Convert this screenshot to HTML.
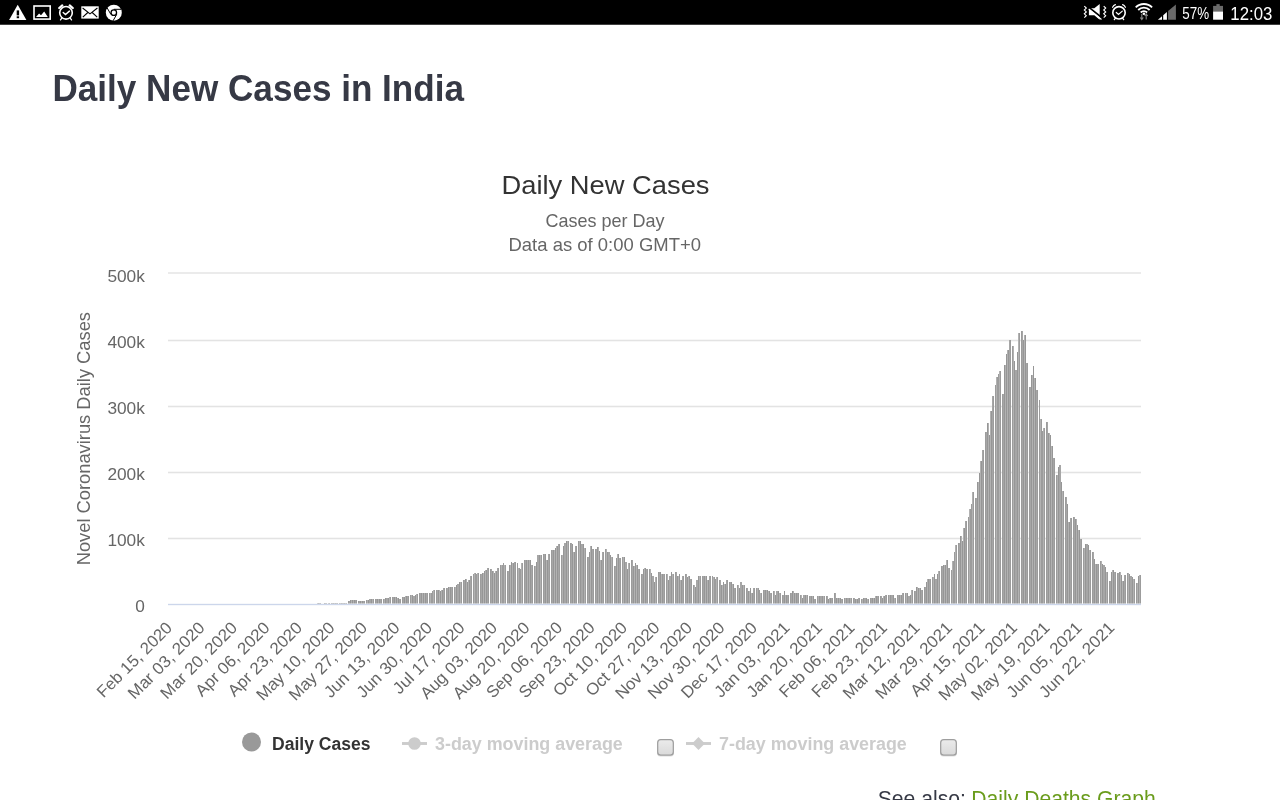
<!DOCTYPE html>
<html lang="en">
<head>
<meta charset="utf-8">
<title>Daily New Cases in India</title>
<style>
html,body{margin:0;padding:0;background:#fff;overflow:hidden}
body{width:1280px;height:800px;font-family:"Liberation Sans",sans-serif}
svg{display:block}
text{font-family:"Liberation Sans",sans-serif}
.h1{font-size:36px;font-weight:bold;fill:#363945}
.ct{font-size:26.5px;fill:#333}
.st{font-size:18.5px;fill:#666}
.yl{font-size:16.6px;fill:#666}
.xl{font-size:16.6px;fill:#666}
.ya{font-size:17.5px;fill:#666}
.lg{font-size:18px;font-weight:bold}
.sb{fill:#fff}
</style>
</head>
<body>
<svg width="1280" height="800" viewBox="0 0 1280 800">
<defs><linearGradient id="cbg" x1="0" y1="0" x2="0" y2="1"><stop offset="0" stop-color="#ebebeb"/><stop offset="1" stop-color="#dadada"/></linearGradient></defs>
<rect x="0" y="0" width="1280" height="800" fill="#fff"/>
<!-- status bar -->
<g id="statusbar">
<rect x="0" y="0" width="1280" height="24.750" fill="#000"/>
<!-- warning -->
<path d="M17.7 4.8L26.4 19.9H9.1Z" fill="#fff"/>
<rect x="16.7" y="10.4" width="2.4" height="5" fill="#000"/>
<rect x="16.7" y="16.3" width="2.4" height="1.9" fill="#000"/>
<!-- image -->
<rect x="34" y="6" width="16.200" height="13.100" fill="none" stroke="#fff" stroke-width="1.600"/>
<path d="M36 16.9L39.1 13.6L41 15.2L44.2 11.6L47.8 16.9Z" fill="#fff"/>
<!-- alarm left -->
<g fill="none" stroke="#fff" stroke-linecap="round">
<circle cx="66" cy="12.800" r="6.300" stroke-width="1.600"/>
<path d="M63.200 12.500L65.500 14.500L69.400 11.100" stroke-width="1.400"/>
<path d="M59.200 8L62.300 5.400M72.800 8L69.700 5.400" stroke-width="2.200"/>
<path d="M61.800 18.200L60.500 19.900M70.200 18.200L71.500 19.900" stroke-width="1.3"/>
</g>
<!-- mail -->
<rect x="81.300" y="6.300" width="17.400" height="12.300" fill="#fff"/>
<path d="M82.600 8L90 13.900L97.400 8M82.800 17.200L87.800 12.500M97.200 17.200L92.200 12.500" fill="none" stroke="#000" stroke-width="1.100"/>
<!-- chrome -->
<circle cx="113.800" cy="12.700" r="8" fill="#fff"/>
<circle cx="113.800" cy="12.700" r="3.400" fill="#000"/>
<circle cx="113.800" cy="12.700" r="2.100" fill="#fff"/>
<path d="M113.800 9.300H121.200M110.900 14.400L107.100 7.900M116.700 14.400L113 20.900" stroke="#000" stroke-width="1" fill="none"/>
<!-- mute / vibrate -->
<path d="M1088.900 8.300H1094.300L1099.700 4.100V19.700L1094.300 15.200H1088.900Z" fill="#fff"/>
<path d="M1088 6.600L1102.300 18" stroke="#000" stroke-width="1.700"/>
<path d="M1088.700 9.300L1101.500 19.500" stroke="#fff" stroke-width="1.100"/>
<path d="M1084.300 6.200L1086.300 8.100L1084.300 10L1086.300 11.900L1084.300 13.800L1086.300 15.700L1084.300 17.600M1103.700 6.200L1105.700 8.100L1103.700 10L1105.700 11.900L1103.700 13.800L1105.700 15.700L1103.700 17.600" fill="none" stroke="#fff" stroke-width="1.100"/>
<!-- alarm right -->
<g fill="none" stroke="#fff" stroke-linecap="round">
<circle cx="1119" cy="12.800" r="6.200" stroke-width="1.600"/>
<path d="M1116.300 12.500L1118.500 14.400L1122.300 11.100" stroke-width="1.200"/>
<path d="M1112.600 7.300Q1113.600 5.200 1115.400 4.700M1125.400 7.300Q1124.400 5.200 1122.600 4.700" stroke-width="1.200"/>
<path d="M1115.300 18.300L1114.300 19.600M1122.700 18.300L1123.700 19.600" stroke-width="1.300"/>
</g>
<!-- wifi -->
<g fill="none" stroke="#fff" stroke-width="1.800">
<path d="M1135.700 7.400A11.600 11.600 0 0 1 1152.100 7.400"/>
<path d="M1138.200 10A8 8 0 0 1 1149.600 10"/>
<path d="M1140.700 12.500A4.500 4.500 0 0 1 1147.100 12.500"/>
</g>
<circle cx="1143.900" cy="13.800" r="1.300" fill="#fff"/>
<path d="M1141.800 14V19.500M1140.300 17.500L1141.800 19.500L1143.300 17.500M1146.200 19.500V14M1144.700 16L1146.200 14L1147.700 16" fill="none" stroke="#888" stroke-width="1.100"/>
<!-- signal -->
<path d="M1157.900 19.700L1162 16.200V19.700Z" fill="#fff"/>
<path d="M1163.200 19.700V15.200L1166.900 12.100V19.700Z" fill="#fff"/>
<path d="M1168.100 19.700V11.100L1175.900 4.500V19.700Z" fill="#6a6a6a"/>
<!-- battery text -->
<text x="1182.300" y="19.300" class="sb" font-size="16.300" textLength="26.800" lengthAdjust="spacingAndGlyphs">57%</text>
<rect x="1216.400" y="4.100" width="3.300" height="2.200" fill="#6a6a6a"/>
<rect x="1213.100" y="5.900" width="9.900" height="5.700" fill="#6a6a6a"/>
<rect x="1213.100" y="11.500" width="9.900" height="8.200" fill="#fff"/>
<text x="1230.300" y="19.600" class="sb" font-size="18" textLength="42" lengthAdjust="spacingAndGlyphs">12:03</text>

</g>
<!-- heading -->
<text x="52.500" y="101" class="h1" textLength="411.500" lengthAdjust="spacingAndGlyphs">Daily New Cases in India</text>
<!-- chart titles -->
<text x="501.500" y="194" class="ct" textLength="208" lengthAdjust="spacingAndGlyphs">Daily New Cases</text>
<text x="545.500" y="227.300" class="st" textLength="119" lengthAdjust="spacingAndGlyphs">Cases per Day</text>
<text x="508.500" y="250.700" class="st" textLength="192.500" lengthAdjust="spacingAndGlyphs">Data as of 0:00 GMT+0</text>
<!-- grid -->
<rect x="168" y="272" width="973" height="2" fill="#ebebeb"/>
<rect x="168" y="537" width="973" height="3" fill="#f7f7f7"/><rect x="168" y="538" width="973" height="1" fill="#e3e3e3"/>
<rect x="168" y="471" width="973" height="3" fill="#f7f7f7"/><rect x="168" y="472" width="973" height="1" fill="#e3e3e3"/>
<rect x="168" y="405" width="973" height="3" fill="#f7f7f7"/><rect x="168" y="406" width="973" height="1" fill="#e3e3e3"/>
<rect x="168" y="339" width="973" height="3" fill="#f7f7f7"/><rect x="168" y="340" width="973" height="1" fill="#e3e3e3"/>
<!-- bars -->
<g shape-rendering="crispEdges">
<path d="M318.5 604.0V603.4M324.5 604.0V602.9M327.5 604.0V603.7M333.5 604.0V602.6M335.5 604.0V602.6M341.5 604.0V602.6M344.5 604.0V602.6M350.5 604.0V600.3M352.5 604.0V600.3M354.5 604.0V600.3M360.5 604.0V600.9M362.5 604.0V600.9M368.5 604.0V599.9M371.5 604.0V599.4M377.5 604.0V598.8M379.5 604.0V598.8M385.5 604.0V598.2M388.5 604.0V598.4M394.5 604.0V597.4M396.5 604.0V597.4M398.5 604.0V598.0M404.5 604.0V596.5M406.5 604.0V596.0M412.5 604.0V594.8M415.5 604.0V595.4M421.5 604.0V592.8M423.5 604.0V592.8M425.5 604.0V592.8M438.5 604.0V589.8M440.5 604.0V591.0M442.5 604.0V589.8M448.5 604.0V586.9M450.5 604.0V586.5M456.5 604.0V585.2M459.5 604.0V582.0M465.5 604.0V578.5M467.5 604.0V582.0M469.5 604.0V580.3M482.5 604.0V572.5M484.5 604.0V571.0M486.5 604.0V569.5M492.5 604.0V571.0M494.5 604.0V572.5M496.5 604.0V571.0M509.5 604.0V564.5M511.5 604.0V561.5M513.5 604.0V563.0M526.5 604.0V559.8M528.5 604.0V559.8M530.5 604.0V560.0M536.5 604.0V561.5M539.5 604.0V555.0M545.5 604.0V553.5M547.5 604.0V559.8M553.5 604.0V550.3M555.5 604.0V547.5M557.5 604.0V546.0M563.5 604.0V546.0M566.5 604.0V541.0M572.5 604.0V544.2M574.5 604.0V552.0M580.5 604.0V541.0M583.5 604.0V544.2M589.5 604.0V552.0M591.5 604.0V545.7M597.5 604.0V547.2M599.5 604.0V550.5M601.5 604.0V559.8M607.5 604.0V552.0M610.5 604.0V555.2M616.5 604.0V558.3M618.5 604.0V553.5M624.5 604.0V556.8M627.5 604.0V569.2M633.5 604.0V566.2M635.5 604.0V563.0M637.5 604.0V564.5M643.5 604.0V569.2M645.5 604.0V567.5M651.5 604.0V572.5M654.5 604.0V582.0M660.5 604.0V572.2M662.5 604.0V574.0M668.5 604.0V580.3M671.5 604.0V572.2M677.5 604.0V575.5M679.5 604.0V574.0M681.5 604.0V580.3M687.5 604.0V577.0M689.5 604.0V575.5M695.5 604.0V586.5M698.5 604.0V575.5M704.5 604.0V575.5M706.5 604.0V575.5M708.5 604.0V580.3M721.5 604.0V585.0M723.5 604.0V582.0M725.5 604.0V583.5M731.5 604.0V582.0M733.5 604.0V583.5M739.5 604.0V588.2M742.5 604.0V585.0M748.5 604.0V591.2M750.5 604.0V588.2M752.5 604.0V593.0M765.5 604.0V589.8M767.5 604.0V589.8M769.5 604.0V591.2M775.5 604.0V594.5M778.5 604.0V591.2M784.5 604.0V591.2M786.5 604.0V594.5M792.5 604.0V591.2M794.5 604.0V593.0M796.5 604.0V593.0M802.5 604.0V597.8M805.5 604.0V594.5M811.5 604.0V596.0M813.5 604.0V596.0M819.5 604.0V596.0M822.5 604.0V596.0M828.5 604.0V599.2M830.5 604.0V597.8M836.5 604.0V597.8M838.5 604.0V597.8M840.5 604.0V597.8M846.5 604.0V597.8M849.5 604.0V597.8M855.5 604.0V599.2M857.5 604.0V599.2M863.5 604.0V597.8M866.5 604.0V597.8M872.5 604.0V597.8M874.5 604.0V597.8M876.5 604.0V596.0M882.5 604.0V597.8M884.5 604.0V596.0M890.5 604.0V594.5M893.5 604.0V594.5M899.5 604.0V594.5M901.5 604.0V594.5M907.5 604.0V593.0M910.5 604.0V594.5M916.5 604.0V586.5M918.5 604.0V588.2M920.5 604.0V588.2M926.5 604.0V582.0M928.5 604.0V578.8M934.5 604.0V574.0M937.5 604.0V574.0M943.5 604.0V564.5M945.5 604.0V564.5M947.5 604.0V559.8M960.5 604.0V535.7M962.5 604.0V540.5M964.5 604.0V528.1M977.5 604.0V482.1M979.5 604.0V472.7M981.5 604.0V461.3M987.5 604.0V423.1M989.5 604.0V434.9M991.5 604.0V410.5M1004.5 604.0V365.2M1006.5 604.0V354.4M1008.5 604.0V349.5M1014.5 604.0V360.5M1017.5 604.0V352.2M1023.5 604.0V339.9M1025.5 604.0V334.7M1031.5 604.0V374.7M1033.5 604.0V365.5M1035.5 604.0V378.1M1048.5 604.0V433.4M1050.5 604.0V434.7M1052.5 604.0V445.6M1058.5 604.0V466.5M1061.5 604.0V481.6M1067.5 604.0V504.3M1069.5 604.0V521.8M1075.5 604.0V518.7M1077.5 604.0V525.3M1079.5 604.0V529.9M1085.5 604.0V544.2M1088.5 604.0V545.1M1094.5 604.0V558.5M1096.5 604.0V564.3M1102.5 604.0V564.1M1105.5 604.0V566.6M1111.5 604.0V571.8M1113.5 604.0V569.5M1119.5 604.0V572.4M1121.5 604.0V574.5M1123.5 604.0V580.8M1129.5 604.0V574.4M1132.5 604.0V576.9M1138.5 604.0V576.4" stroke="#969696" stroke-width="1" fill="none"/>
<path d="M320.5 604.0V603.0M322.5 604.0V603.8M329.5 604.0V603.2M331.5 604.0V602.7M337.5 604.0V602.6M339.5 604.0V602.6M346.5 604.0V602.6M348.5 604.0V601.1M356.5 604.0V600.3M358.5 604.0V600.8M364.5 604.0V600.9M366.5 604.0V600.4M373.5 604.0V599.4M375.5 604.0V599.0M381.5 604.0V598.9M383.5 604.0V599.2M390.5 604.0V597.4M392.5 604.0V597.4M400.5 604.0V599.2M402.5 604.0V597.4M408.5 604.0V596.0M410.5 604.0V594.9M417.5 604.0V594.2M419.5 604.0V592.8M427.5 604.0V592.8M429.5 604.0V592.8M431.5 604.0V592.8M432.5 604.0V591.0M434.5 604.0V589.8M436.5 604.0V589.8M444.5 604.0V588.2M446.5 604.0V588.2M452.5 604.0V586.5M454.5 604.0V586.5M461.5 604.0V582.0M463.5 604.0V580.3M471.5 604.0V575.5M473.5 604.0V574.0M475.5 604.0V572.5M476.5 604.0V574.0M478.5 604.0V572.5M480.5 604.0V574.0M488.5 604.0V567.5M490.5 604.0V569.2M498.5 604.0V567.5M500.5 604.0V564.5M502.5 604.0V564.5M503.5 604.0V563.0M505.5 604.0V564.5M507.5 604.0V571.0M515.5 604.0V561.5M517.5 604.0V563.0M519.5 604.0V567.5M520.5 604.0V569.2M522.5 604.0V563.0M524.5 604.0V559.8M532.5 604.0V564.5M534.5 604.0V566.0M541.5 604.0V555.0M543.5 604.0V553.5M549.5 604.0V553.5M551.5 604.0V550.3M559.5 604.0V544.2M561.5 604.0V555.0M568.5 604.0V541.0M570.5 604.0V542.5M576.5 604.0V545.7M578.5 604.0V541.0M585.5 604.0V547.5M587.5 604.0V556.8M593.5 604.0V549.0M595.5 604.0V549.0M603.5 604.0V552.0M605.5 604.0V549.0M612.5 604.0V556.8M614.5 604.0V566.2M620.5 604.0V558.3M622.5 604.0V556.8M629.5 604.0V563.0M631.5 604.0V559.8M639.5 604.0V569.2M641.5 604.0V574.0M647.5 604.0V569.2M649.5 604.0V569.2M656.5 604.0V577.0M658.5 604.0V572.2M664.5 604.0V574.0M666.5 604.0V574.0M673.5 604.0V574.0M675.5 604.0V572.2M683.5 604.0V575.5M685.5 604.0V574.0M691.5 604.0V578.8M693.5 604.0V585.0M700.5 604.0V575.5M702.5 604.0V575.5M710.5 604.0V575.5M712.5 604.0V575.5M714.5 604.0V577.0M715.5 604.0V578.8M717.5 604.0V577.0M719.5 604.0V580.3M727.5 604.0V580.3M729.5 604.0V582.0M735.5 604.0V588.2M737.5 604.0V585.0M744.5 604.0V585.0M746.5 604.0V588.2M754.5 604.0V588.2M756.5 604.0V588.2M758.5 604.0V588.2M759.5 604.0V589.8M761.5 604.0V593.0M763.5 604.0V589.8M771.5 604.0V593.0M773.5 604.0V591.2M780.5 604.0V593.0M782.5 604.0V594.5M788.5 604.0V594.5M790.5 604.0V593.0M798.5 604.0V593.0M800.5 604.0V594.5M807.5 604.0V594.5M809.5 604.0V596.0M815.5 604.0V599.2M817.5 604.0V596.0M824.5 604.0V596.0M826.5 604.0V596.0M832.5 604.0V597.8M834.5 604.0V593.0M842.5 604.0V599.2M844.5 604.0V597.8M851.5 604.0V597.8M853.5 604.0V597.8M859.5 604.0V597.8M861.5 604.0V599.2M868.5 604.0V599.2M870.5 604.0V597.8M878.5 604.0V596.0M880.5 604.0V596.0M886.5 604.0V594.5M888.5 604.0V594.5M895.5 604.0V597.8M897.5 604.0V594.5M903.5 604.0V593.0M905.5 604.0V593.0M912.5 604.0V589.8M914.5 604.0V591.2M922.5 604.0V589.8M924.5 604.0V586.5M930.5 604.0V578.8M932.5 604.0V577.0M939.5 604.0V571.0M941.5 604.0V566.2M949.5 604.0V567.5M951.5 604.0V570.2M953.5 604.0V560.7M954.5 604.0V552.3M956.5 604.0V545.4M958.5 604.0V542.9M966.5 604.0V520.9M968.5 604.0V517.2M970.5 604.0V508.7M971.5 604.0V503.5M973.5 604.0V492.2M975.5 604.0V498.2M983.5 604.0V450.0M985.5 604.0V432.4M993.5 604.0V396.2M995.5 604.0V385.2M997.5 604.0V377.0M998.5 604.0V374.4M1000.5 604.0V370.7M1002.5 604.0V393.8M1010.5 604.0V339.5M1012.5 604.0V345.7M1019.5 604.0V332.5M1021.5 604.0V331.3M1027.5 604.0V362.8M1029.5 604.0V387.2M1037.5 604.0V389.5M1039.5 604.0V399.5M1041.5 604.0V418.5M1042.5 604.0V430.9M1044.5 604.0V428.2M1046.5 604.0V422.4M1054.5 604.0V457.5M1056.5 604.0V475.2M1063.5 604.0V490.8M1065.5 604.0V496.5M1071.5 604.0V517.6M1073.5 604.0V517.0M1081.5 604.0V538.6M1083.5 604.0V547.8M1090.5 604.0V549.5M1092.5 604.0V551.9M1098.5 604.0V564.3M1100.5 604.0V560.9M1107.5 604.0V572.0M1109.5 604.0V581.2M1115.5 604.0V571.5M1117.5 604.0V573.2M1125.5 604.0V575.1M1127.5 604.0V573.4M1134.5 604.0V579.0M1136.5 604.0V582.8M1140.5 604.0V575.1" stroke="#9c9c9c" stroke-width="1" fill="none"/>
<path d="M319.5 604.0V603.0M325.5 604.0V603.2M326.5 604.0V603.2M332.5 604.0V602.7M336.5 604.0V602.6M342.5 604.0V602.6M343.5 604.0V602.6M349.5 604.0V601.1M355.5 604.0V600.3M359.5 604.0V600.8M363.5 604.0V600.9M369.5 604.0V599.4M370.5 604.0V599.4M376.5 604.0V599.0M380.5 604.0V598.9M386.5 604.0V598.1M387.5 604.0V598.1M393.5 604.0V597.4M399.5 604.0V599.2M403.5 604.0V597.4M407.5 604.0V596.0M413.5 604.0V596.0M414.5 604.0V596.0M420.5 604.0V592.8M426.5 604.0V592.8M437.5 604.0V589.8M443.5 604.0V588.2M447.5 604.0V588.2M451.5 604.0V586.5M457.5 604.0V583.5M458.5 604.0V583.5M464.5 604.0V580.3M470.5 604.0V575.5M481.5 604.0V574.0M487.5 604.0V567.5M491.5 604.0V569.2M497.5 604.0V567.5M508.5 604.0V571.0M514.5 604.0V561.5M525.5 604.0V559.8M531.5 604.0V564.5M537.5 604.0V555.0M538.5 604.0V555.0M544.5 604.0V553.5M548.5 604.0V553.5M552.5 604.0V550.3M558.5 604.0V544.2M564.5 604.0V542.5M565.5 604.0V542.5M571.5 604.0V542.5M575.5 604.0V545.7M581.5 604.0V544.2M582.5 604.0V544.2M588.5 604.0V556.8M592.5 604.0V549.0M596.5 604.0V549.0M602.5 604.0V552.0M608.5 604.0V552.0M609.5 604.0V552.0M615.5 604.0V566.2M619.5 604.0V558.3M625.5 604.0V561.5M626.5 604.0V561.5M632.5 604.0V559.8M638.5 604.0V569.2M642.5 604.0V574.0M646.5 604.0V569.2M652.5 604.0V575.5M653.5 604.0V575.5M659.5 604.0V572.2M663.5 604.0V574.0M669.5 604.0V575.5M670.5 604.0V575.5M676.5 604.0V572.2M682.5 604.0V575.5M686.5 604.0V574.0M690.5 604.0V578.8M696.5 604.0V580.3M697.5 604.0V580.3M703.5 604.0V575.5M709.5 604.0V575.5M720.5 604.0V580.3M726.5 604.0V580.3M730.5 604.0V582.0M734.5 604.0V588.2M740.5 604.0V582.0M741.5 604.0V582.0M747.5 604.0V588.2M753.5 604.0V588.2M764.5 604.0V589.8M770.5 604.0V593.0M776.5 604.0V591.2M777.5 604.0V591.2M783.5 604.0V594.5M787.5 604.0V594.5M791.5 604.0V593.0M797.5 604.0V593.0M803.5 604.0V594.5M804.5 604.0V594.5M810.5 604.0V596.0M814.5 604.0V599.2M820.5 604.0V596.0M821.5 604.0V596.0M827.5 604.0V596.0M831.5 604.0V597.8M835.5 604.0V593.0M841.5 604.0V599.2M847.5 604.0V597.8M848.5 604.0V597.8M854.5 604.0V597.8M858.5 604.0V597.8M864.5 604.0V597.8M865.5 604.0V597.8M871.5 604.0V597.8M877.5 604.0V596.0M881.5 604.0V596.0M885.5 604.0V594.5M891.5 604.0V594.5M892.5 604.0V594.5M898.5 604.0V594.5M902.5 604.0V593.0M908.5 604.0V596.0M909.5 604.0V596.0M915.5 604.0V591.2M921.5 604.0V589.8M925.5 604.0V586.5M929.5 604.0V578.8M935.5 604.0V578.8M936.5 604.0V578.8M942.5 604.0V566.2M948.5 604.0V567.5M959.5 604.0V542.9M965.5 604.0V520.9M976.5 604.0V498.2M982.5 604.0V450.0M986.5 604.0V432.4M992.5 604.0V396.2M1003.5 604.0V393.8M1009.5 604.0V339.5M1015.5 604.0V369.9M1016.5 604.0V369.9M1022.5 604.0V331.3M1026.5 604.0V362.8M1030.5 604.0V387.2M1036.5 604.0V389.5M1047.5 604.0V422.4M1053.5 604.0V457.5M1059.5 604.0V464.8M1060.5 604.0V464.8M1066.5 604.0V496.5M1070.5 604.0V517.6M1074.5 604.0V517.0M1080.5 604.0V538.6M1086.5 604.0V543.5M1087.5 604.0V543.5M1093.5 604.0V551.9M1097.5 604.0V564.3M1103.5 604.0V565.2M1104.5 604.0V565.2M1110.5 604.0V581.2M1114.5 604.0V571.5M1118.5 604.0V573.2M1124.5 604.0V575.1M1130.5 604.0V576.2M1131.5 604.0V576.2" stroke="#a6a6a6" stroke-width="1" fill="none"/>
<path d="M317.5 604.0V603.4M323.5 604.0V603.8M328.5 604.0V603.2M334.5 604.0V602.6M340.5 604.0V602.6M345.5 604.0V602.6M351.5 604.0V600.3M353.5 604.0V600.3M361.5 604.0V600.9M367.5 604.0V600.4M372.5 604.0V599.4M378.5 604.0V598.8M384.5 604.0V599.2M389.5 604.0V597.4M395.5 604.0V597.4M397.5 604.0V598.0M405.5 604.0V596.0M411.5 604.0V594.9M416.5 604.0V594.2M422.5 604.0V592.8M424.5 604.0V592.8M430.5 604.0V592.8M433.5 604.0V589.8M439.5 604.0V589.8M441.5 604.0V589.8M449.5 604.0V586.5M455.5 604.0V586.5M460.5 604.0V582.0M466.5 604.0V578.5M468.5 604.0V580.3M474.5 604.0V572.5M477.5 604.0V572.5M483.5 604.0V572.5M485.5 604.0V569.5M493.5 604.0V571.0M495.5 604.0V571.0M501.5 604.0V564.5M504.5 604.0V564.5M510.5 604.0V564.5M512.5 604.0V563.0M518.5 604.0V567.5M521.5 604.0V563.0M527.5 604.0V559.8M529.5 604.0V560.0M535.5 604.0V566.0M540.5 604.0V555.0M546.5 604.0V559.8M554.5 604.0V550.3M556.5 604.0V546.0M562.5 604.0V555.0M567.5 604.0V541.0M573.5 604.0V552.0M579.5 604.0V541.0M584.5 604.0V547.5M590.5 604.0V545.7M598.5 604.0V547.2M600.5 604.0V559.8M606.5 604.0V549.0M611.5 604.0V556.8M617.5 604.0V553.5M623.5 604.0V556.8M628.5 604.0V563.0M634.5 604.0V566.2M636.5 604.0V564.5M644.5 604.0V567.5M650.5 604.0V569.2M655.5 604.0V577.0M661.5 604.0V574.0M667.5 604.0V574.0M672.5 604.0V574.0M678.5 604.0V575.5M680.5 604.0V580.3M688.5 604.0V575.5M694.5 604.0V585.0M699.5 604.0V575.5M705.5 604.0V575.5M707.5 604.0V580.3M713.5 604.0V577.0M716.5 604.0V577.0M722.5 604.0V585.0M724.5 604.0V583.5M732.5 604.0V583.5M738.5 604.0V585.0M743.5 604.0V585.0M749.5 604.0V591.2M751.5 604.0V593.0M757.5 604.0V588.2M760.5 604.0V593.0M766.5 604.0V589.8M768.5 604.0V591.2M774.5 604.0V591.2M779.5 604.0V593.0M785.5 604.0V594.5M793.5 604.0V591.2M795.5 604.0V593.0M801.5 604.0V594.5M806.5 604.0V594.5M812.5 604.0V596.0M818.5 604.0V596.0M823.5 604.0V596.0M829.5 604.0V597.8M837.5 604.0V597.8M839.5 604.0V597.8M845.5 604.0V597.8M850.5 604.0V597.8M856.5 604.0V599.2M862.5 604.0V599.2M867.5 604.0V599.2M873.5 604.0V597.8M875.5 604.0V596.0M883.5 604.0V596.0M889.5 604.0V594.5M894.5 604.0V597.8M900.5 604.0V594.5M906.5 604.0V593.0M911.5 604.0V589.8M917.5 604.0V586.5M919.5 604.0V588.2M927.5 604.0V578.8M933.5 604.0V577.0M938.5 604.0V571.0M944.5 604.0V564.5M946.5 604.0V559.8M952.5 604.0V560.7M955.5 604.0V545.4M961.5 604.0V535.7M963.5 604.0V528.1M969.5 604.0V508.7M972.5 604.0V492.2M978.5 604.0V482.1M980.5 604.0V461.3M988.5 604.0V423.1M990.5 604.0V410.5M996.5 604.0V377.0M999.5 604.0V370.7M1005.5 604.0V365.2M1007.5 604.0V349.5M1013.5 604.0V345.7M1018.5 604.0V332.5M1024.5 604.0V334.7M1032.5 604.0V374.7M1034.5 604.0V378.1M1040.5 604.0V418.5M1043.5 604.0V428.2M1049.5 604.0V433.4M1051.5 604.0V445.6M1057.5 604.0V475.2M1062.5 604.0V490.8M1068.5 604.0V521.8M1076.5 604.0V518.7M1078.5 604.0V529.9M1084.5 604.0V547.8M1089.5 604.0V549.5M1095.5 604.0V564.3M1101.5 604.0V560.9M1106.5 604.0V572.0M1112.5 604.0V569.5M1120.5 604.0V572.4M1122.5 604.0V580.8M1128.5 604.0V573.4M1133.5 604.0V579.0M1137.5 604.0V582.8M1139.5 604.0V575.1" stroke="#b2b2b2" stroke-width="1" fill="none"/>
</g>
<rect x="168" y="603.500" width="973" height="2" fill="#eef1f8"/>
<rect x="168" y="604" width="973" height="1" fill="#ccd6eb"/>
<!-- y labels -->
<text x="135.2" y="612" class="yl" textLength="9.6" lengthAdjust="spacingAndGlyphs">0</text>
<text x="107.4" y="546" class="yl" textLength="37.5" lengthAdjust="spacingAndGlyphs">100k</text>
<text x="107.4" y="480" class="yl" textLength="37.5" lengthAdjust="spacingAndGlyphs">200k</text>
<text x="107.4" y="414" class="yl" textLength="37.5" lengthAdjust="spacingAndGlyphs">300k</text>
<text x="107.4" y="348" class="yl" textLength="37.5" lengthAdjust="spacingAndGlyphs">400k</text>
<text x="107.4" y="282" class="yl" textLength="37.5" lengthAdjust="spacingAndGlyphs">500k</text>
<text transform="translate(90,565.300) rotate(-90)" class="ya" textLength="253.300" lengthAdjust="spacingAndGlyphs">Novel Coronavirus Daily Cases</text>
<!-- x labels -->
<text transform="translate(173.2,628.8) rotate(-45)" x="-98.7" textLength="98.7" lengthAdjust="spacingAndGlyphs" class="xl">Feb 15, 2020</text>
<text transform="translate(205.7,628.8) rotate(-45)" x="-100.6" textLength="100.6" lengthAdjust="spacingAndGlyphs" class="xl">Mar 03, 2020</text>
<text transform="translate(238.2,628.8) rotate(-45)" x="-100.6" textLength="100.6" lengthAdjust="spacingAndGlyphs" class="xl">Mar 20, 2020</text>
<text transform="translate(270.7,628.8) rotate(-45)" x="-97.1" textLength="97.1" lengthAdjust="spacingAndGlyphs" class="xl">Apr 06, 2020</text>
<text transform="translate(303.2,628.8) rotate(-45)" x="-97.1" textLength="97.1" lengthAdjust="spacingAndGlyphs" class="xl">Apr 23, 2020</text>
<text transform="translate(335.7,628.8) rotate(-45)" x="-102.9" textLength="102.9" lengthAdjust="spacingAndGlyphs" class="xl">May 10, 2020</text>
<text transform="translate(368.2,628.8) rotate(-45)" x="-102.9" textLength="102.9" lengthAdjust="spacingAndGlyphs" class="xl">May 27, 2020</text>
<text transform="translate(400.7,628.8) rotate(-45)" x="-98.9" textLength="98.9" lengthAdjust="spacingAndGlyphs" class="xl">Jun 13, 2020</text>
<text transform="translate(433.2,628.8) rotate(-45)" x="-98.9" textLength="98.9" lengthAdjust="spacingAndGlyphs" class="xl">Jun 30, 2020</text>
<text transform="translate(465.7,628.8) rotate(-45)" x="-93.5" textLength="93.5" lengthAdjust="spacingAndGlyphs" class="xl">Jul 17, 2020</text>
<text transform="translate(498.2,628.8) rotate(-45)" x="-100.8" textLength="100.8" lengthAdjust="spacingAndGlyphs" class="xl">Aug 03, 2020</text>
<text transform="translate(530.7,628.8) rotate(-45)" x="-100.8" textLength="100.8" lengthAdjust="spacingAndGlyphs" class="xl">Aug 20, 2020</text>
<text transform="translate(563.2,628.8) rotate(-45)" x="-99.4" textLength="99.4" lengthAdjust="spacingAndGlyphs" class="xl">Sep 06, 2020</text>
<text transform="translate(595.7,628.8) rotate(-45)" x="-99.4" textLength="99.4" lengthAdjust="spacingAndGlyphs" class="xl">Sep 23, 2020</text>
<text transform="translate(628.2,628.8) rotate(-45)" x="-96.8" textLength="96.8" lengthAdjust="spacingAndGlyphs" class="xl">Oct 10, 2020</text>
<text transform="translate(660.7,628.8) rotate(-45)" x="-96.8" textLength="96.8" lengthAdjust="spacingAndGlyphs" class="xl">Oct 27, 2020</text>
<text transform="translate(693.2,628.8) rotate(-45)" x="-100.8" textLength="100.8" lengthAdjust="spacingAndGlyphs" class="xl">Nov 13, 2020</text>
<text transform="translate(725.7,628.8) rotate(-45)" x="-100.8" textLength="100.8" lengthAdjust="spacingAndGlyphs" class="xl">Nov 30, 2020</text>
<text transform="translate(758.2,628.8) rotate(-45)" x="-99.8" textLength="99.8" lengthAdjust="spacingAndGlyphs" class="xl">Dec 17, 2020</text>
<text transform="translate(790.7,628.8) rotate(-45)" x="-98.7" textLength="98.7" lengthAdjust="spacingAndGlyphs" class="xl">Jan 03, 2021</text>
<text transform="translate(823.1,628.8) rotate(-45)" x="-98.7" textLength="98.7" lengthAdjust="spacingAndGlyphs" class="xl">Jan 20, 2021</text>
<text transform="translate(855.6,628.8) rotate(-45)" x="-98.7" textLength="98.7" lengthAdjust="spacingAndGlyphs" class="xl">Feb 06, 2021</text>
<text transform="translate(888.1,628.8) rotate(-45)" x="-98.7" textLength="98.7" lengthAdjust="spacingAndGlyphs" class="xl">Feb 23, 2021</text>
<text transform="translate(920.6,628.8) rotate(-45)" x="-100.6" textLength="100.6" lengthAdjust="spacingAndGlyphs" class="xl">Mar 12, 2021</text>
<text transform="translate(953.1,628.8) rotate(-45)" x="-100.6" textLength="100.6" lengthAdjust="spacingAndGlyphs" class="xl">Mar 29, 2021</text>
<text transform="translate(985.6,628.8) rotate(-45)" x="-97.1" textLength="97.1" lengthAdjust="spacingAndGlyphs" class="xl">Apr 15, 2021</text>
<text transform="translate(1018.1,628.8) rotate(-45)" x="-102.9" textLength="102.9" lengthAdjust="spacingAndGlyphs" class="xl">May 02, 2021</text>
<text transform="translate(1050.6,628.8) rotate(-45)" x="-102.9" textLength="102.9" lengthAdjust="spacingAndGlyphs" class="xl">May 19, 2021</text>
<text transform="translate(1083.1,628.8) rotate(-45)" x="-98.9" textLength="98.9" lengthAdjust="spacingAndGlyphs" class="xl">Jun 05, 2021</text>
<text transform="translate(1115.6,628.8) rotate(-45)" x="-98.9" textLength="98.9" lengthAdjust="spacingAndGlyphs" class="xl">Jun 22, 2021</text>
<!-- legend -->
<g id="legend">
<circle cx="251.500" cy="742" r="9.500" fill="#999"/>
<text x="272" y="750" class="lg" fill="#333" textLength="98.500" lengthAdjust="spacingAndGlyphs">Daily Cases</text>
<path d="M402 743.500H427" stroke="#ccc" stroke-width="2.900"/>
<circle cx="414.500" cy="743.500" r="6.300" fill="#ccc"/>
<text x="435" y="750" class="lg" fill="#ccc" textLength="187.800" lengthAdjust="spacingAndGlyphs">3-day moving average</text>
<rect x="657.200" y="741.200" width="16.600" height="15.600" rx="3.500" fill="#e9e9e9"/><rect x="657.200" y="740.700" width="16.600" height="15.300" rx="3.200" fill="#c4c4c4"/>
<rect x="657.700" y="739.700" width="15.600" height="15.300" rx="3" fill="url(#cbg)" stroke="#9e9e9e" stroke-width="1.200"/>
<path d="M686 743.500H711" stroke="#ccc" stroke-width="2.900"/>
<path d="M698.500 737.100L704.900 743.500L698.500 749.900L692.100 743.500Z" fill="#ccc"/>
<text x="719" y="750" class="lg" fill="#ccc" textLength="187.800" lengthAdjust="spacingAndGlyphs">7-day moving average</text>
<rect x="940.200" y="741.200" width="16.600" height="15.600" rx="3.500" fill="#e9e9e9"/><rect x="940.200" y="740.700" width="16.600" height="15.300" rx="3.200" fill="#c4c4c4"/>
<rect x="940.700" y="739.700" width="15.600" height="15.300" rx="3" fill="url(#cbg)" stroke="#9e9e9e" stroke-width="1.200"/>
</g>
<!-- see also -->
<text x="877.700" y="806" font-size="22.300" fill="#363945" textLength="88.300" lengthAdjust="spacingAndGlyphs">See also:</text>
<text x="971.300" y="806" font-size="22.300" fill="#6a9c1c" textLength="184.500" lengthAdjust="spacingAndGlyphs">Daily Deaths Graph</text>
</svg>
</body>
</html>
